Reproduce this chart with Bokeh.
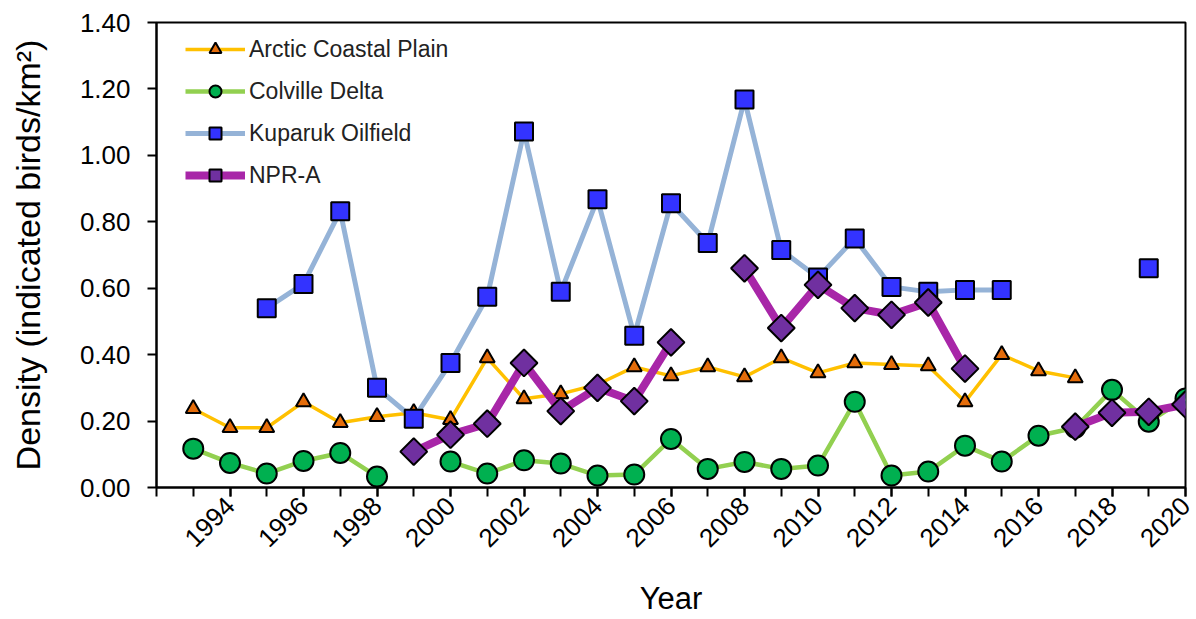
import math
from bokeh.plotting import figure
from bokeh.models import (ColumnDataSource, FixedTicker, NumeralTickFormatter,
                          Legend, LegendItem, Range1d)
from bokeh.embed import file_html
from bokeh.resources import INLINE

nan = float("nan")
years = list(range(1993, 2021))

arctic_coastal_plain = [0.237, 0.18, 0.18, 0.258, 0.195, 0.213, 0.225, 0.204, 0.39, 0.267,
                        0.282, 0.31, 0.363, 0.336, 0.363, 0.333, 0.39, 0.345, 0.375, 0.37,
                        0.366, 0.258, 0.40, 0.351, 0.33, nan, nan, nan]
colville_delta = [0.117, 0.074, 0.042, 0.08, 0.104, 0.033, nan, 0.078, 0.042, 0.082,
                  0.072, 0.036, 0.039, 0.146, 0.056, 0.077, 0.056, 0.066, 0.258, 0.036,
                  0.048, 0.126, 0.078, 0.156, 0.18, 0.294, 0.198, 0.268]
kuparuk_oilfield = [nan, nan, 0.54, 0.613, 0.832, 0.30, 0.207, 0.375, 0.574, 1.072,
                    0.589, 0.868, 0.457, 0.856, 0.736, 1.168, 0.715, 0.632, 0.75, 0.604,
                    0.589, 0.595, 0.595, nan, nan, nan, 0.66, nan]
npr_a = [nan, nan, nan, nan, nan, nan, 0.108, 0.159, 0.192, 0.375,
         0.23, 0.30, 0.26, 0.437, nan, 0.66, 0.48, 0.61, 0.54, 0.52,
         0.557, 0.358, nan, nan, 0.183, 0.225, 0.228, 0.25]

x_tick_years = list(range(1994, 2021, 2))
x_minor_years = list(range(1992, 2021))
y_ticks = [0.0, 0.2, 0.4, 0.6, 0.8, 1.0, 1.2, 1.4]

FONT = "Liberation Sans"

p = figure(width=1196, height=619, output_backend="svg", toolbar_location=None,
           x_range=Range1d(1992, 2020), y_range=Range1d(0, 1.4),
           min_border_left=156, min_border_right=11, min_border_top=22,
           min_border_bottom=131)
p.grid.visible = False
p.outline_line_color = "black"
p.outline_line_width = 2
p.background_fill_color = "white"
p.border_fill_color = "white"

src = ColumnDataSource(dict(year=years, acp=arctic_coastal_plain, cd=colville_delta,
                            ko=kuparuk_oilfield, npr=npr_a))

series = [
    ("Arctic Coastal Plain", "acp", "#FFC000", 3.5, "triangle", 15, "#E46C0A", 0),
    ("Colville Delta", "cd", "#92D050", 4.5, "circle", 20, "#00B050", 0),
    ("Kuparuk Oilfield", "ko", "#95B3D7", 5, "square", 18, "#3333FF", 0),
    ("NPR-A", "npr", "#A826A8", 8, "square", 19, "#7030A0", math.pi / 4),
]

items = []
for name, col, lc, lw, marker, size, fc, ang in series:
    ln = p.line("year", col, source=src, line_color=lc, line_width=lw, line_join="round")
    sc = p.scatter("year", col, source=src, marker=marker, size=size, angle=ang,
                   fill_color=fc, line_color="black", line_width=2)
    items.append(LegendItem(label=name, renderers=[ln, sc]))

legend = Legend(items=items, location=(29, 297), border_line_color=None,
                background_fill_alpha=0, glyph_width=60, glyph_height=30,
                spacing=12, padding=0, margin=0, label_standoff=4,
                label_text_font=FONT, label_text_font_size="23px",
                label_text_color="#222222")
p.add_layout(legend)

xa = p.xaxis[0]
xa.ticker = FixedTicker(ticks=x_tick_years, minor_ticks=x_minor_years)
xa.major_label_orientation = math.pi / 4
xa.major_label_text_font = FONT
xa.major_label_text_font_size = "26px"
xa.major_label_text_color = "black"
xa.major_tick_in = 0
xa.major_tick_out = 9
xa.minor_tick_in = 0
xa.minor_tick_out = 9
xa.major_tick_line_width = 2
xa.minor_tick_line_width = 2
xa.axis_line_width = 2
xa.axis_label = "Year"
xa.axis_label_text_font = FONT
xa.axis_label_text_font_size = "31px"
xa.axis_label_text_font_style = "normal"
xa.axis_label_text_color = "black"
xa.axis_label_standoff = 23
xa.major_label_standoff = 5

ya = p.yaxis[0]
ya.ticker = FixedTicker(ticks=y_ticks, minor_ticks=[])
ya.formatter = NumeralTickFormatter(format="0.00")
ya.major_label_text_font = FONT
ya.major_label_text_font_size = "26px"
ya.major_label_text_color = "black"
ya.major_tick_in = 0
ya.major_tick_out = 9
ya.major_tick_line_width = 2
ya.axis_line_width = 2
ya.axis_label = "Density (indicated birds/km²)"
ya.axis_label_text_font = FONT
ya.axis_label_text_font_size = "34px"
ya.axis_label_text_font_style = "normal"
ya.axis_label_text_color = "black"
ya.axis_label_standoff = 30
ya.major_label_standoff = 17

open("out.html", "w").write(file_html(p, INLINE))
